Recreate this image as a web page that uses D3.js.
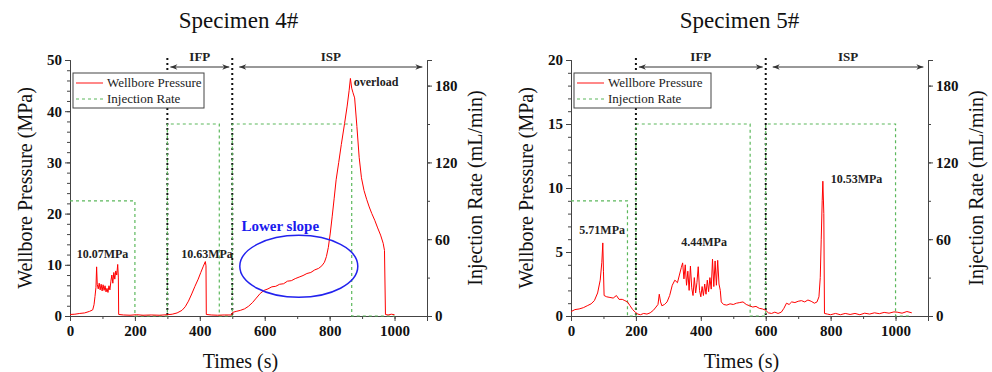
<!DOCTYPE html>
<html>
<head>
<meta charset="utf-8">
<script src="https://cdn.jsdelivr.net/npm/d3@7"></script>
<style>
  body { margin: 0; background: #fff; }
  text { font-family: "Liberation Serif", "DejaVu Serif", serif; }
</style>
</head>
<body>
<div id="chart"></div>
<script>
var width = 992;
var height = 372;

// ---- data ----
var titles = ['Specimen 4#', 'Specimen 5#'];
var seriesNames = ['Wellbore Pressure', 'Injection Rate'];
var xTicks = [0, 200, 400, 600, 800, 1000];
var rateTicks = [0, 60, 120, 180];
var pressTicks4 = [0, 10, 20, 30, 40, 50];
var pressTicks5 = [0, 5, 10, 15, 20];

// [time (s), pressure (MPa)]
var pressure4 = [
  [0,0.3],[15,0.35],[30,0.5],[45,0.6],[60,0.9],[70,1.2],[74,2.2],[77,3.8],[80,5.6],[82,9.6],[84,6.2],
  [87,5.3],[90,6.4],[93,5.1],[96,6.2],[99,4.9],[102,6.1],[105,5.0],[108,5.9],[111,4.7],[114,5.4],
  [117,4.6],[120,5.9],[123,5.1],[126,6.8],[129,8.0],[132,6.4],[135,8.5],[138,7.2],[141,8.8],
  [144,8.0],[147,10.07],[149,7.6],[150,0.3],[165,0.2],[185,0.15],[205,0.25],[225,0.15],[250,0.2],
  [275,0.15],[300,0.25],[315,0.35],[330,0.6],[345,1.1],[355,1.8],[365,2.9],[375,4.3],[385,5.8],
  [395,7.2],[403,8.5],[410,9.6],[417,10.63],[419,9.8],[420,0.3],[435,0.2],[455,0.15],[475,0.2],
  [498,0.2],[501,0.7],[512,0.9],[525,1.1],[538,1.4],[550,1.9],[562,2.6],[574,3.5],[586,4.4],
  [598,5.0],[610,5.3],[622,5.7],[634,5.8],[646,6.2],[658,6.3],[670,6.8],[682,6.9],[694,7.3],
  [706,7.6],[718,7.9],[730,8.3],[742,8.5],[754,9.0],[766,9.3],[776,9.8],[784,10.5],[790,11.6],
  [796,13.4],[802,16.2],[808,19.5],[814,23],[820,26.6],[828,30],[836,33.5],[846,37.6],[854,41],
  [860,44],[864,46.4],[868,44.5],[872,43.6],[877,42.6],[884,37],[891,31],[898,27],[906,24.5],
  [914,22.8],[922,21.3],[930,20],[939,18.7],[948,17.2],[957,15.8],[965,14.2],[969,12.8],
  [972,0.3],[980,0.2],[990,0.35],[1000,0.25]
];

var pressure5 = [
  [0,0.34],[12,0.5],[25,0.55],[38,0.65],[50,0.8],[62,0.95],[72,1.2],[82,1.8],[90,2.8],[95,4.2],
  [98,5.71],[100,3.5],[102,1.6],[110,1.5],[120,1.45],[130,1.4],[140,1.6],[148,1.3],[158,1.3],
  [166,1.2],[174,1.1],[182,0.8],[190,0.5],[198,0.3],[206,0.15],[214,0.1],[224,0.2],[234,0.15],
  [244,0.25],[254,0.45],[262,0.7],[268,0.9],[272,1.7],[276,1.1],[280,0.8],[288,0.9],[296,1.1],
  [304,1.6],[312,2.4],[320,2.8],[328,2.6],[334,3.2],[340,3.8],[344,4.15],[348,2.9],[352,4.0],
  [356,2.4],[360,3.5],[364,2.0],[368,3.9],[372,2.2],[376,1.6],[380,3.0],[384,1.8],[388,2.6],
  [392,3.85],[396,2.0],[400,1.5],[404,2.3],[408,1.6],[412,2.5],[416,1.7],[420,2.8],[424,1.9],
  [428,3.0],[432,2.1],[436,4.44],[440,2.3],[444,4.3],[448,2.4],[452,4.35],[456,2.5],[460,2.0],
  [463,1.1],[470,0.9],[480,0.85],[490,0.95],[500,0.9],[510,1.0],[520,1.05],[530,1.1],[540,0.9],
  [550,0.8],[560,0.7],[570,0.75],[580,0.6],[590,0.55],[600,0.45],[608,0.25],[618,0.2],[628,0.3],
  [638,0.2],[648,0.3],[656,0.6],[664,1.0],[672,0.9],[680,1.1],[690,1.05],[700,1.15],[710,1.2],
  [720,1.1],[730,1.25],[740,1.15],[750,1.0],[758,1.1],[764,1.5],[768,3.0],[771,6.0],[774,9.0],
  [776,10.53],[779,8.0],[781,0.2],[790,0.15],[800,0.1],[815,0.2],[830,0.1],[845,0.2],[860,0.12],
  [875,0.2],[890,0.1],[905,0.22],[920,0.15],[935,0.25],[950,0.18],[965,0.28],[980,0.22],
  [995,0.32],[1005,0.3],[1020,0.22],[1035,0.35],[1050,0.25]
];

// [time (s), rate (mL/min)]
var rate4 = [[0,90],[200,90],[200,0],[300,0],[300,150],[460,150],[460,0],[500,0],[500,150],[868,150],[868,0],[1000,0]];
var rate5 = [[0,90],[174,90],[174,0],[200,0],[200,150],[552,150],[552,0],[600,0],[600,150],[1000,150],[1000,0],[1050,0]];

// stage boundaries (s)
var stages4 = [300, 500];
var stages5 = [200, 600];

// peak labels [time, pressure, text, anchor]
var notes4 = [[100, 11.4, '10.07MPa', 'middle'], [422, 11.4, '10.63MPa', 'middle'], [874, 45, 'overload', 'start']];
var notes5 = [[96, 6.4, '5.71MPa', 'middle'], [410, 5.5, '4.44MPa', 'middle'], [800, 10.4, '10.53MPa', 'start']];

var svg = d3.select('#chart').append('svg').attr('width', width).attr('height', height);

var defs = svg.append('defs');
defs.append('marker').attr('id', 'arrowEnd').attr('viewBox', '0 0 10 10').attr('refX', 10).attr('refY', 5)
  .attr('markerWidth', 9).attr('markerHeight', 7).attr('markerUnits', 'userSpaceOnUse').attr('orient', 'auto')
  .append('path').attr('d', 'M0,1 L10,5 L0,9 L3,5 Z').attr('fill', '#333');
defs.append('marker').attr('id', 'arrowStart').attr('viewBox', '0 0 10 10').attr('refX', 0).attr('refY', 5)
  .attr('markerWidth', 9).attr('markerHeight', 7).attr('markerUnits', 'userSpaceOnUse').attr('orient', 'auto')
  .append('path').attr('d', 'M10,1 L0,5 L10,9 L7,5 Z').attr('fill', '#333');

function panel(opt) {
  var g = svg.append('g');
  var x = d3.scaleLinear().domain([0, 1100]).range([opt.left, opt.right]);
  var y = d3.scaleLinear().domain([0, opt.pmax]).range([316, 60]);
  var y2 = d3.scaleLinear().domain([0, 200]).range([316, 60]);

  // minor ticks
  var axX = d3.axisBottom(x).tickValues(d3.range(0, 1101, 100)).tickSize(3).tickFormat('');
  g.append('g').attr('transform', 'translate(0,316)').call(axX);
  g.append('g').attr('transform', 'translate(0,316)')
    .call(d3.axisBottom(x).tickValues(xTicks).tickSize(5).tickPadding(4).tickFormat(d3.format('d')));

  g.append('g').attr('transform', 'translate(' + opt.left + ',0)')
    .call(d3.axisLeft(y).tickValues(d3.range(0, opt.pmax + 0.01, opt.minor)).tickSize(3).tickFormat(''));
  g.append('g').attr('transform', 'translate(' + opt.left + ',0)')
    .call(d3.axisLeft(y).tickValues(opt.pticks).tickSize(5).tickPadding(3));

  g.append('g').attr('transform', 'translate(' + opt.right + ',0)')
    .call(d3.axisRight(y2).tickValues(d3.range(0, 201, 30)).tickSize(3).tickFormat(''));
  g.append('g').attr('transform', 'translate(' + opt.right + ',0)')
    .call(d3.axisRight(y2).tickValues(rateTicks).tickSize(5).tickPadding(3));

  g.selectAll('.domain').attr('stroke', '#444');
  g.selectAll('.tick line').attr('stroke', '#444');
  g.selectAll('.tick text').attr('font-family', '"Liberation Serif", serif')
    .attr('font-size', 15).attr('font-weight', 'bold').attr('fill', '#111');

  // stage lines
  opt.stages.forEach(function(s) {
    g.append('line').attr('x1', x(s)).attr('x2', x(s)).attr('y1', 58).attr('y2', 316)
      .attr('stroke', '#111').attr('stroke-width', 2).attr('stroke-dasharray', '2,3');
  });
  var arrows = [[opt.stages[0], opt.stages[1], 'IFP'], [opt.stages[1], 1095, 'ISP']];
  arrows.forEach(function(a) {
    var x1 = x(a[0]) + 3, x2 = x(a[1]) - 3;
    if (a[2] === 'ISP') x1 = x(a[0]) + 7;
    g.append('line').attr('x1', x1).attr('x2', x2).attr('y1', 67).attr('y2', 67)
      .attr('stroke', '#333').attr('stroke-width', 1)
      .attr('marker-start', 'url(#arrowStart)').attr('marker-end', 'url(#arrowEnd)');
    g.append('text').attr('x', (x1 + x2) / 2).attr('y', 61).attr('text-anchor', 'middle')
      .attr('font-size', 13).attr('font-weight', 'bold').attr('fill', '#222').text(a[2]);
  });

  // injection rate
  g.append('path').datum(opt.rate)
    .attr('d', d3.line().x(function(d) { return x(d[0]); }).y(function(d) { return y2(d[1]); }))
    .attr('fill', 'none').attr('stroke', '#5cb85c').attr('stroke-width', 1.2).attr('stroke-dasharray', '3,3');

  // pressure
  g.append('path').datum(opt.pressure)
    .attr('d', d3.line().x(function(d) { return x(d[0]); }).y(function(d) { return y(d[1]); }))
    .attr('fill', 'none').attr('stroke', '#ff0000').attr('stroke-width', 1);

  opt.notes.forEach(function(n) {
    g.append('text').attr('x', x(n[0])).attr('y', y(n[1])).attr('text-anchor', n[3])
      .attr('font-size', 12).attr('font-weight', 'bold').attr('fill', '#222').text(n[2]);
  });

  // legend
  var lg = g.append('g').attr('transform', 'translate(' + (opt.left + 3) + ',73)');
  lg.append('rect').attr('width', opt.legendW).attr('height', 35).attr('fill', '#fff').attr('stroke', '#444');
  lg.append('line').attr('x1', 3).attr('x2', 30).attr('y1', 10).attr('y2', 10).attr('stroke', '#f88').attr('stroke-width', 2);
  lg.append('line').attr('x1', 3).attr('x2', 30).attr('y1', 26).attr('y2', 26).attr('stroke', '#5cb85c')
    .attr('stroke-width', 1.2).attr('stroke-dasharray', '3,3');
  lg.selectAll('text.lg').data(seriesNames).enter().append('text')
    .attr('x', 34).attr('y', function(d, i) { return 14 + i * 16; })
    .attr('font-size', 13).attr('fill', '#222').text(function(d) { return d; });

  // titles and axis labels
  var cx = (opt.left + opt.right) / 2;
  g.append('text').attr('x', cx - 10).attr('y', 28).attr('text-anchor', 'middle')
    .attr('font-size', 23).attr('fill', '#111').text(opt.title);
  g.append('text').attr('x', cx - 8).attr('y', 368).attr('text-anchor', 'middle')
    .attr('font-size', 20).attr('fill', '#111').text('Times (s)');
  g.append('text').attr('transform', 'translate(' + (opt.left - 38) + ',188) rotate(-90)')
    .attr('text-anchor', 'middle').attr('font-size', 20).attr('fill', '#111').text('Wellbore Pressure (MPa)');
  g.append('text').attr('transform', 'translate(' + (opt.right + 55) + ',188) rotate(-90)')
    .attr('text-anchor', 'middle').attr('font-size', 20).attr('fill', '#111').text('Injection Rate (mL/min)');
  return g;
}

panel({left: 70, right: 427, pmax: 50, minor: 2, pticks: pressTicks4, title: titles[0],
  pressure: pressure4, rate: rate4, stages: stages4, notes: notes4, legendW: 131});
panel({left: 571, right: 928, pmax: 20, minor: 1, pticks: pressTicks5, title: titles[1],
  pressure: pressure5, rate: rate5, stages: stages5, notes: notes5, legendW: 137});

// "Lower slope" annotation on specimen 4
var xa = d3.scaleLinear().domain([0, 1100]).range([70, 427]);
var ya = d3.scaleLinear().domain([0, 50]).range([316, 60]);
svg.append('ellipse').attr('cx', xa(705)).attr('cy', ya(9.7)).attr('rx', 59).attr('ry', 31)
  .attr('fill', 'none').attr('stroke', '#2222ee').attr('stroke-width', 1.5);
svg.append('text').attr('x', xa(648)).attr('y', ya(16.6)).attr('text-anchor', 'middle')
  .attr('font-size', 15).attr('font-weight', 'bold').attr('fill', '#1a1aee').text('Lower slope');
</script>
</body>
</html>
